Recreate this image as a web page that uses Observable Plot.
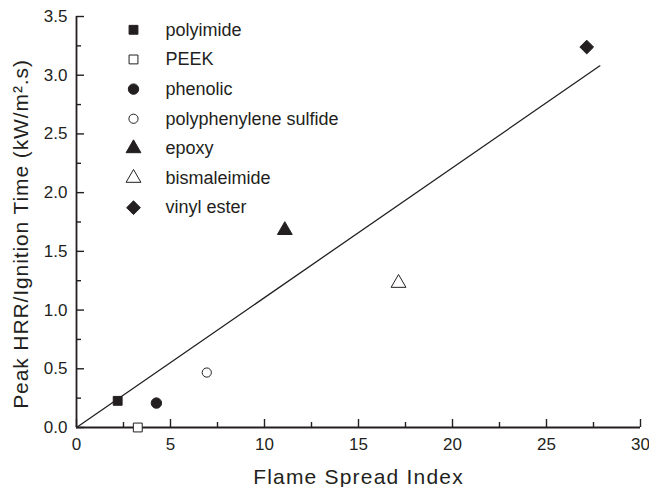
<!DOCTYPE html>
<html><head><meta charset="utf-8">
<script src="https://cdn.jsdelivr.net/npm/d3@7"></script>
<script src="https://cdn.jsdelivr.net/npm/@observablehq/plot@0.6"></script>
<style>
body{margin:0;background:#fff;}
#chart svg{font-family:"Liberation Sans",Arial,Helvetica,sans-serif;}
</style></head><body><div id="chart"></div>
<script>
const materials = ["polyimide","PEEK","phenolic","polyphenylene sulfide","epoxy","bismaleimide","vinyl ester"];
const flameSpread = [2.19, 3.26, 4.25, 6.93, 11.08, 17.13, 27.14];
const hrrIgnition = [0.227, 0.0, 0.208, 0.468, 1.68, 1.23, 3.24];
const symbols = ["square","square","circle","circle","triangle","triangle","diamond2"];
const filled = [true,false,true,false,true,false,true];
const radii = [5.0,5.0,5.2,4.6,5.5,5.5,6.2];
const fitX = [0, 27.84];
const fitY = [0, 3.08];
const xTicks = [0,5,10,15,20,25,30];
const xMinor = [2.5,7.5,12.5,17.5,22.5,27.5];
const yTicks = [0,0.5,1.0,1.5,2.0,2.5,3.0,3.5];
const yMinor = [0.25,0.75,1.25,1.75,2.25,2.75,3.25];
const xLabel = "Flame Spread Index";
const yLabel = "Peak HRR/Ignition Time (kW/m\u00B2.s)";

const ink = "#231f20";
const points = materials.map((m,i)=>({material:m, x:flameSpread[i], y:hrrIgnition[i], symbol:symbols[i], fill:filled[i]?ink:"white", r:radii[i]}));
const fit = fitX.map((x,i)=>({x, y:fitY[i]}));

const legendMarks = [];
materials.forEach((m,i)=>{
  const row = 13.3 + i*29.65;
  legendMarks.push(Plot.dot([m], {frameAnchor:"top-left", dx:57, dy:row, symbol:symbols[i], r:radii[i], fill:filled[i]?ink:"white", stroke:ink, strokeWidth:1}));
  legendMarks.push(Plot.text([m], {frameAnchor:"top-left", dx:89, dy:row, text:d=>d, textAnchor:"start", lineAnchor:"middle", fontSize:18, fill:ink}));
});

const chart = Plot.plot({
  width:649, height:487,
  marginLeft:76, marginRight:9, marginTop:16, marginBottom:60,
  style:{fontFamily:"'Liberation Sans',Arial,sans-serif", color:ink, background:"white"},
  x:{domain:[0,30]},
  y:{domain:[0,3.5]},
  r:{type:"identity"},
  marks:[
    Plot.axisX(xTicks, {tickSize:0, tickPadding:10, fontSize:17, label:null, stroke:ink, fill:ink}),
    Plot.axisX(xTicks, {tickSize:-8, text:null, label:null, stroke:ink, strokeWidth:1.4}),
    Plot.axisX(xMinor, {tickSize:-5, text:null, label:null, stroke:ink, strokeWidth:1.4}),
    Plot.axisY(yTicks, {tickSize:0, tickPadding:9, fontSize:17, tickFormat:d3.format(".1f"), label:null, fill:ink}),
    Plot.axisY(yTicks, {tickSize:-8, text:null, label:null, stroke:ink, strokeWidth:1.4}),
    Plot.axisY(yMinor, {tickSize:-5, text:null, label:null, stroke:ink, strokeWidth:1.4}),
    Plot.ruleY([0], {stroke:ink, strokeWidth:1.8}),
    Plot.ruleX([0], {stroke:ink, strokeWidth:1.8}),
    Plot.line(fit, {x:"x", y:"y", stroke:ink, strokeWidth:1.3}),
    Plot.dot(points, {x:"x", y:"y", symbol:"symbol", r:"r", fill:"fill", stroke:ink, strokeWidth:1}),
    ...legendMarks,
    Plot.text([xLabel], {frameAnchor:"bottom", dy:49.3, text:d=>d, textAnchor:"middle", lineAnchor:"middle", fontSize:21, fill:ink}),
    Plot.text([yLabel], {frameAnchor:"left", dx:-55.7, dy:12, rotate:-90, text:d=>d, textAnchor:"middle", lineAnchor:"middle", fontSize:21, fill:ink})
  ]
});
d3.select(chart).selectAll("text").each(function(){
  const t = this.textContent;
  if (t === xLabel) this.setAttribute("letter-spacing", "1.2");
  else if (t === yLabel) this.setAttribute("letter-spacing", "0.9");
});
document.getElementById("chart").appendChild(chart);
</script></body></html>
